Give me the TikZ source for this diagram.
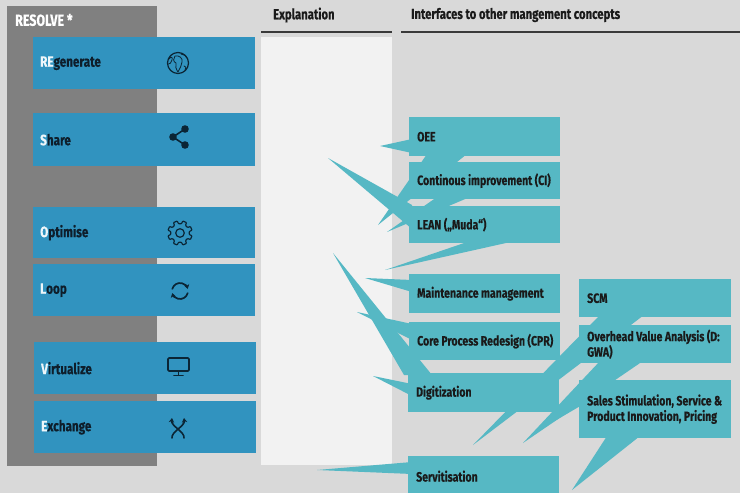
\documentclass[tikz,border=0pt]{standalone}
\usepackage{fontspec}
\setmainfont{Fira Sans}[FakeStretch=0.78,BoldFeatures={FakeBold=0.4}]
\usetikzlibrary{arrows.meta,calc}
\definecolor{bgc}{HTML}{D9D9D9}
\definecolor{colgray}{HTML}{808080}
\definecolor{bluec}{HTML}{3193BF}
\definecolor{tealc}{HTML}{56B8C4}
\definecolor{panelc}{HTML}{F2F2F2}
\definecolor{darkt}{HTML}{1A1A1A}
\definecolor{navyt}{HTML}{0E1E2B}
\definecolor{lettc}{HTML}{EEF6FA}
\definecolor{iconc}{HTML}{0B2535}
\definecolor{rulec}{HTML}{3A3A3A}
\begin{document}
\begin{tikzpicture}[x=1pt,y=-1pt,
  bluebox/.style={fill=bluec,draw=none,anchor=north west,minimum width=222pt,inner sep=0pt},
  tealbox/.style={fill=tealc,draw=none,anchor=north west,inner sep=0pt},
  bluetext/.style={anchor=west,inner sep=0pt,text=navyt,font=\fontsize{15}{17}\selectfont\bfseries},
  tealtext/.style={anchor=west,inner sep=0pt,align=left,text=darkt,font=\fontsize{13.5}{15.5}\selectfont\bfseries},
  headtext/.style={anchor=west,inner sep=0pt,text=darkt,font=\fontsize{14.5}{17}\selectfont\bfseries},
  tail/.style={fill=tealc,draw=none},
  icon/.style={draw=iconc,line width=1.5pt,line cap=round,line join=round},
  iconthin/.style={draw=iconc,line width=0.8pt,line cap=round,line join=round},
  hrule/.style={draw=rulec,line width=1.3pt}
]
\useasboundingbox (0,0) rectangle (740,493);
\fill[bgc] (0,0) rectangle (740,493);
% left column
\fill[colgray] (7,6) rectangle (157,466);
\node[anchor=west,inner sep=0pt,text=white,font=\fontsize{16}{18}\selectfont\bfseries] (title) at (15,20) {RESOLVE *};
% explanation panel and headers
\fill[panelc] (261,37) rectangle (392,465);
\node[headtext] (hexp) at (273,15) {Explanation};
\node[headtext] (hint) at (411,15) {Interfaces to other mangement concepts};
\coordinate (r1a) at (261,32); \coordinate (r1b) at (392,32);
\coordinate (r2a) at (401,32); \coordinate (r2b) at (740,32);
\draw[hrule] (r1a) -- (r1b);
\draw[hrule] (r2a) -- (r2b);
% blue boxes
\node[bluebox,minimum height=52pt] (regen) at (33,37) {};
\node[bluebox,minimum height=53pt] (share) at (33,113) {};
\node[bluebox,minimum height=51pt] (optim) at (33,207) {};
\node[bluebox,minimum height=52pt] (loop) at (33,264) {};
\node[bluebox,minimum height=52pt] (virt) at (34,342) {};
\node[bluebox,minimum height=52pt] (exch) at (34,401) {};
\node[bluetext] (regent) at ([xshift=7pt]regen.west) {\textcolor{lettc}{RE}generate};
\node[bluetext] (sharet) at ([xshift=7pt]share.west) {\textcolor{lettc}{S}hare};
\node[bluetext] (optimt) at ([xshift=7pt]optim.west) {\textcolor{lettc}{O}ptimise};
\node[bluetext] (loopt) at ([xshift=7pt]loop.west) {\textcolor{lettc}{L}oop};
\node[bluetext] (virtt) at ([xshift=7pt]virt.west) {\textcolor{lettc}{V}irtualize};
\node[bluetext] (excht) at ([xshift=7pt]exch.west) {\textcolor{lettc}{E}xchange};
% icons
% globe
\draw[icon,line width=1.2pt] (178,63) circle (10.5);
\draw[iconthin] (175,56) .. controls (179,55) and (183,58) .. (182,62) .. controls (181,66) and (180,69) .. (178,72) .. controls (176,69) and (175,66) .. (176,63) .. controls (173,62) and (173,58) .. (175,56) -- cycle;
\draw[iconthin] (169,59) .. controls (171,56) and (173,57) .. (172,60) .. controls (171,63) and (170,64) .. (168.5,64);
\draw[iconthin] (184,66) .. controls (186,66) and (187,68) .. (185,70);
\draw[iconthin] (181,54) .. controls (184,54) and (186,56) .. (187,58);
% share
\coordinate (sh1) at (185,129); \coordinate (sh2) at (173,137); \coordinate (sh3) at (185,145);
\draw[icon,line width=1.6pt] (sh1) -- (sh2) -- (sh3);
\fill[iconc] (sh1) circle (3.8); \fill[iconc] (sh2) circle (3.8); \fill[iconc] (sh3) circle (3.8);
% gear
\begin{scope}[shift={(180,233)}]
\draw[icon,line width=1.2pt,rounded corners=0.7pt] (0:9.3) \foreach \a in {0,45,...,315} { -- (\a+9:9.3) -- (\a+13:12.3) -- (\a+32:12.3) -- (\a+36:9.3) -- (\a+45:9.3) } -- cycle;
\draw[icon,line width=1.2pt] (0,0) circle (4.3);
\end{scope}
% loop / sync
\begin{scope}[shift={(180,291)}]
\draw[icon,line width=1.7pt,-{Stealth[length=4.5pt,width=5.5pt]}] (195:8) arc[start angle=195,end angle=345,radius=8];
\draw[icon,line width=1.7pt,-{Stealth[length=4.5pt,width=5.5pt]}] (15:8) arc[start angle=15,end angle=165,radius=8];
\end{scope}
% monitor
\draw[icon,line width=1.8pt,rounded corners=1.2pt] (168,358) rectangle (189,371);
\draw[icon,line width=1.8pt] (178.5,371) -- (178.5,375);
\draw[icon,line width=1.6pt] (174,375.5) -- (183,375.5);
% exchange
\draw[icon,line width=1.6pt,-{Stealth[length=4.5pt,width=5.5pt]}] (172,438) .. controls (171,432) and (185,426) .. (184,418);
\draw[icon,line width=1.6pt,-{Stealth[length=4.5pt,width=5.5pt]}] (184,438) .. controls (185,432) and (171,426) .. (172,418);
% callout tails
\fill[tail] (380,146) -- (412,139) -- (412,153) -- cycle;
\fill[tail] (378,225) -- (427,154) -- (467,154) -- cycle;
\fill[tail] (328,158) -- (412,205) -- (412,229) -- cycle;
\fill[tail] (387,232) -- (437,197) -- (470,197) -- cycle;
\fill[tail] (385,270) -- (470,241) -- (515,241) -- cycle;
\fill[tail] (365,278) -- (412,280) -- (412,292) -- cycle;
\fill[tail] (357,312) -- (412,324) -- (412,340) -- cycle;
\fill[tail] (333,253) -- (404,375) -- (432,375) -- cycle;
\fill[tail] (373,376) -- (412,384) -- (412,396) -- cycle;
\fill[tail] (317,470) -- (412,462) -- (412,474) -- cycle;
\fill[tail] (473,445) -- (600,315) -- (644,315) -- cycle;
\fill[tail] (523,443) -- (600,361) -- (643,361) -- cycle;
\fill[tail] (553,422) -- (582,390) -- (582,405) -- cycle;
\fill[tail] (572,490) -- (607,436) -- (640,436) -- cycle;
% teal boxes
\node[tealbox,minimum width=151pt,minimum height=39pt] (oee) at (409,117) {};
\node[tealbox,minimum width=151pt,minimum height=37pt] (ci) at (409,162) {};
\node[tealbox,minimum width=151pt,minimum height=37pt] (lean) at (409,206) {};
\node[tealbox,minimum width=151pt,minimum height=39pt] (maint) at (409,274) {};
\node[tealbox,minimum width=151pt,minimum height=38pt] (cpr) at (409,322) {};
\node[tealbox,minimum width=151pt,minimum height=39pt] (digit) at (408,373) {};
\node[tealbox,minimum width=151pt,minimum height=40pt] (servit) at (408,456) {};
\node[tealbox,minimum width=152pt,minimum height=38pt] (scm) at (579,279) {};
\node[tealbox,minimum width=152pt,minimum height=38pt] (ovh) at (579,325) {};
\node[tealbox,minimum width=152pt,minimum height=58pt] (sales) at (579,380) {};
\node[tealtext] (oeet) at ([xshift=8pt]oee.west) {OEE};
\node[tealtext] (cit) at ([xshift=8pt]ci.west) {Continous improvement (CI)};
\node[tealtext] (leant) at ([xshift=8pt]lean.west) {LEAN („Muda“)};
\node[tealtext] (maintt) at ([xshift=8pt]maint.west) {Maintenance management};
\node[tealtext] (cprt) at ([xshift=8pt]cpr.west) {Core Process Redesign (CPR)};
\node[tealtext] (digitt) at ([xshift=8pt]digit.west) {Digitization};
\node[tealtext] (servitt) at ([xshift=8pt,yshift=0pt]servit.west) {Servitisation};
\node[tealtext] (scmt) at ([xshift=8pt]scm.west) {SCM};
\node[tealtext] (ovht) at ([xshift=8pt]ovh.west) {Overhead Value Analysis (D:\\GWA)};
\node[tealtext] (salest) at ([xshift=8pt]sales.west) {Sales Stimulation, Service \&\\Product Innovation, Pricing};
\end{tikzpicture}
\end{document}
